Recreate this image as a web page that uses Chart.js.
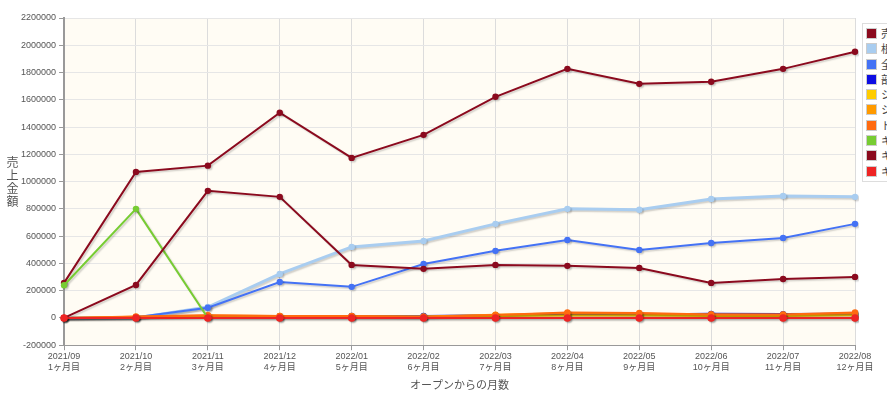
<!DOCTYPE html>
<html lang="ja">
<head>
<meta charset="utf-8">
<script src="https://cdn.jsdelivr.net/npm/chart.js@4"></script>
<style>
  html, body { margin: 0; padding: 0; background: #fff; overflow: hidden; }
  #wrap { position: relative; width: 887px; height: 397px; }
  #yTitle {
    position: absolute; left: 5px; top: 156px;
    writing-mode: vertical-rl; text-orientation: upright;
    font: 12px "Noto Sans CJK JP", sans-serif; color: #555; line-height: 14px; letter-spacing: 1px;
  }
  #legend {
    position: absolute; left: 862px; top: 23px; width: 60px;
    list-style: none; margin: 0; padding: 2px 0 2px 3px;
    background: #fff; border: 1px solid #ddd;
    font: 11px "Noto Sans CJK JP", sans-serif; color: #444;
  }
  #legend li { height: 15.3px; line-height: 15px; white-space: nowrap; }
  #legend span.box { display: inline-block; width: 9px; height: 9px; vertical-align: -1px; margin-right: 4px; border: 1px solid #ccc; box-sizing: content-box; }
</style>
</head>
<body>
<div id="wrap">
  <canvas id="salesChart" width="887" height="397"></canvas>
  <div id="yTitle">売上金額</div>
  <ul id="legend"></ul>
</div>
<script>
// --- データ ---
const months = ['2021/09','2021/10','2021/11','2021/12','2022/01','2022/02','2022/03','2022/04','2022/05','2022/06','2022/07','2022/08'];
const monthCounts = ['1ヶ月目','2ヶ月目','3ヶ月目','4ヶ月目','5ヶ月目','6ヶ月目','7ヶ月目','8ヶ月目','9ヶ月目','10ヶ月目','11ヶ月目','12ヶ月目'];

const seriesNames = ['売上合計','根岸店','全体平均','部門A','シーズンA','シーズンB','トピック','キャンペーンA','キャンペーンB','キャンペーンC'];
const seriesColors = ['#8b0a1e','#a9cdf0','#4472f5','#0d0de3','#ffcc00','#ff9a00','#ff6a10','#77cc33','#8b0a1e','#ee2424'];

const sales1  = [257000, 1071000, 1117000, 1505000, 1174000, 1343000, 1622000, 1827000, 1717000, 1732000, 1827000, 1952000];
const sales2  = [0, 0, 80000, 323000, 521000, 565000, 690000, 800000, 793000, 873000, 895000, 888000];
const sales3  = [0, 5000, 75000, 264000, 228000, 396000, 492000, 572000, 499000, 550000, 587000, 690000];
const sales4  = [0, 4000, 10000, 12000, 14000, 15000, 20000, 24000, 25000, 30000, 28000, 30000];
const sales5  = [0, 3000, 8000, 9000, 9000, 8000, 14000, 18000, 18000, 15000, 15000, 20000];
const sales6  = [0, 8000, 18000, 14000, 12000, 10000, 24000, 34000, 30000, 25000, 24000, 34000];
const sales7  = [0, 10000, 20000, 15000, 15000, 6000, 22000, 40000, 36000, 26000, 26000, 40000];
const sales8  = [240000, 800000, 0, 0, 0, 0, 0, 0, 0, 0, 0, 0];
const sales9  = [0, 242000, 932000, 888000, 389000, 360000, 389000, 382000, 367000, 257000, 286000, 301000];
const sales10 = [0, 0, 0, 0, 0, 0, 0, 0, 0, 0, 0, 0];

const allSeries = [sales1, sales2, sales3, sales4, sales5, sales6, sales7, sales8, sales9, sales10];

// 背景色 + 影
const bgPlugin = {
  id: 'plotBg',
  beforeDraw(chart) {
    const { ctx, chartArea: a } = chart;
    ctx.save();
    ctx.fillStyle = '#fffcf4';
    ctx.fillRect(a.left, a.top, a.right - a.left, a.bottom - a.top);
    ctx.restore();
  },
  beforeDatasetsDraw(chart) {
    const ctx = chart.ctx;
    ctx.save();
    ctx.shadowColor = 'rgba(0,0,0,0.18)';
    ctx.shadowOffsetX = 1.5;
    ctx.shadowOffsetY = 1.5;
    ctx.shadowBlur = 1.5;
  },
  afterDatasetsDraw(chart) {
    chart.ctx.restore();
  }
};

function render() {
  const datasets = allSeries.map((data, i) => ({
    label: seriesNames[i],
    data: data,
    borderColor: seriesColors[i],
    backgroundColor: seriesColors[i],
    pointBackgroundColor: seriesColors[i],
    pointBorderColor: seriesColors[i],
    borderWidth: i === 1 ? 3 : 2,
    pointRadius: i === 9 ? 3.8 : 3.2,
    pointBorderWidth: 0,
    tension: 0,
    fill: false,
    order: 20 - i
  }));

  const ctx = document.getElementById('salesChart').getContext('2d');
  new Chart(ctx, {
    type: 'line',
    data: { labels: months.map((m, i) => [m, monthCounts[i]]), datasets: datasets },
    options: {
      responsive: false,
      animation: false,
      layout: { padding: { left: 18, right: 32, top: 18, bottom: 6 } },
      plugins: { legend: { display: false }, tooltip: { enabled: false } },
      scales: {
        x: {
          offset: false,
          grid: { color: '#dcdcdc', tickLength: 5, tickColor: '#999' },
          border: { color: '#999', width: 1 },
          ticks: { color: '#555', font: { family: 'Liberation Sans, Noto Sans CJK JP', size: 9 }, maxRotation: 0, autoSkip: false, padding: 1 },
          title: { display: true, text: 'オープンからの月数', color: '#555', font: { family: 'Noto Sans CJK JP', size: 11 }, padding: { top: 4, bottom: 0 } }
        },
        y: {
          min: -200000,
          max: 2200000,
          grid: { color: '#e6e6e6', tickLength: 5, tickColor: '#999' },
          border: { color: '#999', width: 2 },
          ticks: {
            stepSize: 200000,
            color: '#555',
            font: { family: 'Liberation Sans', size: 9 },
            padding: 3,
            callback: v => String(v)
          }
        }
      }
    },
    plugins: [bgPlugin]
  });

  // 凡例
  const legendEl = document.getElementById('legend');
  seriesNames.forEach((name, i) => {
    const li = document.createElement('li');
    li.innerHTML = `<span class="box" style="background:${seriesColors[i]}"></span>${name}`;
    legendEl.appendChild(li);
  });
}

render();
</script>
</body>
</html>
